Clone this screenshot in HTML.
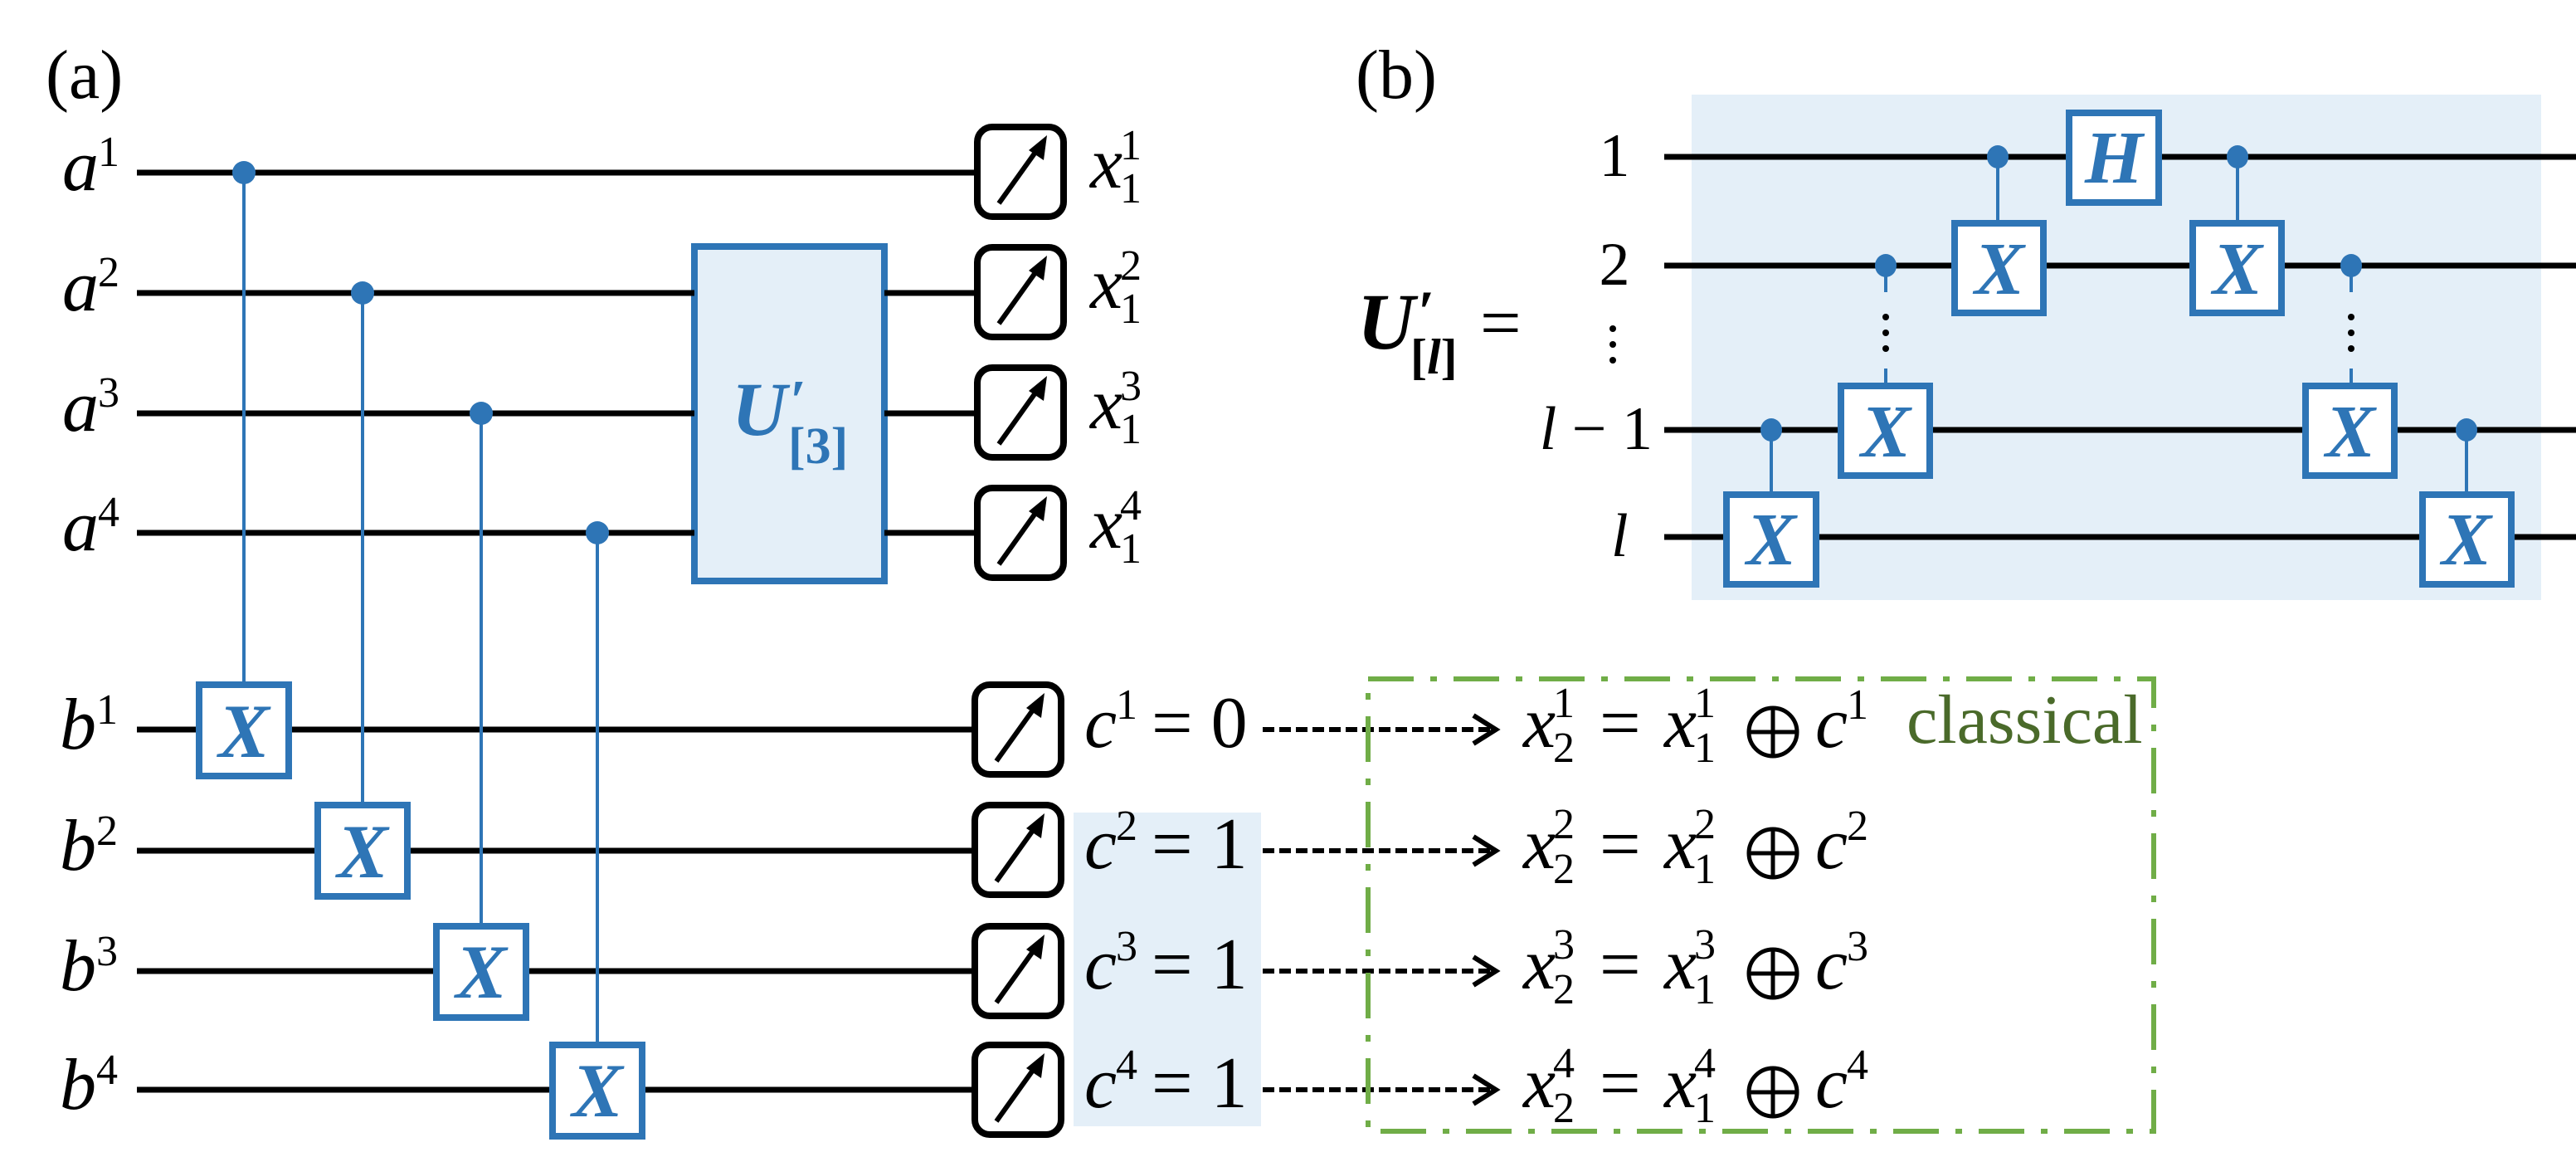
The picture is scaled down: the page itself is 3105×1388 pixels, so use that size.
<!DOCTYPE html>
<html><head><meta charset="utf-8"><style>html,body{margin:0;padding:0;background:#fff}svg{display:block}svg text{font-family:"Liberation Serif","DejaVu Serif",serif}</style></head><body>
<svg width="3105" height="1388" viewBox="0 0 3105 1388" xmlns="http://www.w3.org/2000/svg" style="font-family:'Liberation Serif',serif">
<defs>
<g id="meter"><rect x="0" y="0" width="104" height="108" rx="18" fill="#fff" stroke="#000" stroke-width="8"/><line x1="26" y1="92" x2="76" y2="22" stroke="#000" stroke-width="6"/><polygon points="84,10 62,28 80,40" fill="#000"/></g>
<g id="oplus" fill="none" stroke="#000" stroke-width="5"><circle cx="0" cy="0" r="29"/><line x1="-29" y1="0" x2="29" y2="0"/><line x1="0" y1="-29" x2="0" y2="29"/></g>
</defs>
<text x="55" y="118" font-size="84">(a)</text>
<text x="1634" y="118" font-size="84">(b)</text>

<rect x="837" y="297" width="229" height="403" fill="#e4eff8" stroke="#2e75b6" stroke-width="8"/>
<rect x="1294" y="979" width="226" height="378" fill="#e4eff8"/>

<g stroke="#000" stroke-width="7">
<line x1="165" y1="208" x2="1180" y2="208"/>
<line x1="165" y1="353" x2="837" y2="353"/><line x1="1066" y1="353" x2="1180" y2="353"/>
<line x1="165" y1="498" x2="837" y2="498"/><line x1="1066" y1="498" x2="1180" y2="498"/>
<line x1="165" y1="642" x2="837" y2="642"/><line x1="1066" y1="642" x2="1180" y2="642"/>
<line x1="165" y1="879" x2="1180" y2="879"/>
<line x1="165" y1="1025" x2="1180" y2="1025"/>
<line x1="165" y1="1170" x2="1180" y2="1170"/>
<line x1="165" y1="1313" x2="1180" y2="1313"/>
</g>
<g stroke="#2e75b6" stroke-width="4">
<line x1="294" y1="208" x2="294" y2="825"/>
<line x1="437" y1="353" x2="437" y2="970"/>
<line x1="580" y1="498" x2="580" y2="1116"/>
<line x1="720" y1="642" x2="720" y2="1259"/>
</g>
<g fill="#2e75b6">
<ellipse cx="294" cy="208" rx="14" ry="14"/><ellipse cx="437" cy="353" rx="14" ry="14"/>
<ellipse cx="580" cy="498" rx="14" ry="14"/><ellipse cx="720" cy="642" rx="14" ry="14"/>
</g>
<g fill="#fff" stroke="#2e75b6" stroke-width="8">
<rect x="240" y="825" width="108" height="110"/>
<rect x="383" y="970" width="108" height="110"/>
<rect x="526" y="1116" width="108" height="110"/>
<rect x="666" y="1259" width="108" height="110"/>
</g>
<g fill="#2e75b6" font-size="92" font-weight="bold" font-style="italic" text-anchor="middle">
<text x="294" y="912">X</text><text x="437" y="1057">X</text><text x="580" y="1202">X</text><text x="720" y="1345">X</text>
</g>
<text x="882" y="524" font-size="92" font-weight="bold" font-style="italic" fill="#2e75b6">U<tspan dx="4" dy="-18" font-size="70" font-style="normal">′</tspan></text>
<text x="950" y="558" font-size="62" font-weight="bold" fill="#2e75b6">[3]</text>

<use href="#meter" x="1178" y="153"/><use href="#meter" x="1178" y="298"/><use href="#meter" x="1178" y="443"/><use href="#meter" x="1178" y="588"/>
<use href="#meter" x="1175" y="825"/><use href="#meter" x="1175" y="970"/><use href="#meter" x="1175" y="1116"/><use href="#meter" x="1175" y="1259"/>

<g font-size="88" font-style="italic">
<text x="75" y="229">a</text><text x="75" y="374">a</text><text x="75" y="519">a</text><text x="75" y="663">a</text>
<text x="72" y="902">b</text><text x="72" y="1048">b</text><text x="72" y="1193">b</text><text x="72" y="1336">b</text>
</g>
<g font-size="52">
<text x="118" y="200">1</text><text x="118" y="345">2</text><text x="118" y="490">3</text><text x="118" y="634">4</text>
<text x="116" y="872">1</text><text x="116" y="1018">2</text><text x="116" y="1163">3</text><text x="116" y="1306">4</text>
</g>
<g font-size="88" font-style="italic">
<text x="1314" y="226">x</text><text x="1314" y="371">x</text><text x="1314" y="516">x</text><text x="1314" y="660">x</text>
</g>
<g font-size="52">
<text x="1350" y="192">1</text><text x="1350" y="337">2</text><text x="1350" y="482">3</text><text x="1350" y="626">4</text>
<text x="1350" y="244">1</text><text x="1350" y="389">1</text><text x="1350" y="534">1</text><text x="1350" y="678">1</text>
</g>
<g font-size="88">
<text x="1307" y="900" font-style="italic">c</text><text x="1388" y="900">= 0</text>
<text x="1307" y="1046" font-style="italic">c</text><text x="1388" y="1046">= 1</text>
<text x="1307" y="1191" font-style="italic">c</text><text x="1388" y="1191">= 1</text>
<text x="1307" y="1334" font-style="italic">c</text><text x="1388" y="1334">= 1</text>
</g>
<g font-size="52">
<text x="1345" y="866">1</text><text x="1345" y="1012">2</text><text x="1345" y="1157">3</text><text x="1345" y="1300">4</text>
</g>
<g stroke="#000" stroke-width="6" fill="none">
<g stroke-dasharray="14 6">
<line x1="1522" y1="879" x2="1800" y2="879"/><line x1="1522" y1="1025" x2="1800" y2="1025"/>
<line x1="1522" y1="1170" x2="1800" y2="1170"/><line x1="1522" y1="1313" x2="1800" y2="1313"/>
</g>
<polyline points="1776,862 1803,879 1776,896"/><polyline points="1776,1008 1803,1025 1776,1042"/>
<polyline points="1776,1153 1803,1170 1776,1187"/><polyline points="1776,1296 1803,1313 1776,1330"/>
</g>
<rect x="1649" y="818" width="947" height="545" fill="none" stroke="#70ad47" stroke-width="6" stroke-dasharray="55 20 8 20"/>
<text x="2298" y="895" font-size="84" fill="#4a6a2a">classical</text>
<g font-size="88">
<g font-style="italic"><text x="1836" y="900">x</text><text x="2006" y="900">x</text><text x="2188" y="900">c</text></g><text x="1928" y="900">=</text>
<g font-style="italic"><text x="1836" y="1046">x</text><text x="2006" y="1046">x</text><text x="2188" y="1046">c</text></g><text x="1928" y="1046">=</text>
<g font-style="italic"><text x="1836" y="1191">x</text><text x="2006" y="1191">x</text><text x="2188" y="1191">c</text></g><text x="1928" y="1191">=</text>
<g font-style="italic"><text x="1836" y="1334">x</text><text x="2006" y="1334">x</text><text x="2188" y="1334">c</text></g><text x="1928" y="1334">=</text>
</g>
<use href="#oplus" x="2137" y="882"/><use href="#oplus" x="2137" y="1028"/><use href="#oplus" x="2137" y="1173"/><use href="#oplus" x="2137" y="1316"/>
<g font-size="52">
<text x="1872" y="864">1</text><text x="1872" y="918">2</text><text x="2042" y="864">1</text><text x="2042" y="918">1</text><text x="2226" y="866">1</text>
<text x="1872" y="1010">2</text><text x="1872" y="1064">2</text><text x="2042" y="1010">2</text><text x="2042" y="1064">1</text><text x="2226" y="1012">2</text>
<text x="1872" y="1155">3</text><text x="1872" y="1209">2</text><text x="2042" y="1155">3</text><text x="2042" y="1209">1</text><text x="2226" y="1157">3</text>
<text x="1872" y="1298">4</text><text x="1872" y="1352">2</text><text x="2042" y="1298">4</text><text x="2042" y="1352">1</text><text x="2226" y="1300">4</text>
</g>

<rect x="2039" y="114" width="1024" height="609" fill="#e4eff8"/>
<g stroke="#000" stroke-width="7">
<line x1="2006" y1="189" x2="3105" y2="189"/>
<line x1="2006" y1="320" x2="3105" y2="320"/>
<line x1="2006" y1="518" x2="3105" y2="518"/>
<line x1="2006" y1="647" x2="3105" y2="647"/>
</g>
<g stroke="#2e75b6" stroke-width="4">
<line x1="2135" y1="518" x2="2135" y2="594"/>
<line x1="2408" y1="189" x2="2408" y2="268"/>
<line x1="2697" y1="189" x2="2697" y2="268"/>
<line x1="2973" y1="518" x2="2973" y2="594"/>
<line x1="2273" y1="320" x2="2273" y2="352"/><line x1="2273" y1="444" x2="2273" y2="464"/>
<line x1="2834" y1="320" x2="2834" y2="352"/><line x1="2834" y1="444" x2="2834" y2="464"/>
</g>
<g fill="#000">
<circle cx="2273" cy="382" r="4"/><circle cx="2273" cy="401" r="4"/><circle cx="2273" cy="420" r="4"/>
<circle cx="2834" cy="382" r="4"/><circle cx="2834" cy="401" r="4"/><circle cx="2834" cy="420" r="4"/>
<circle cx="1944" cy="396" r="4"/><circle cx="1944" cy="415" r="4"/><circle cx="1944" cy="434" r="4"/>
</g>
<g fill="#2e75b6">
<ellipse cx="2135" cy="518" rx="13" ry="14"/><ellipse cx="2273" cy="320" rx="13" ry="14"/>
<ellipse cx="2408" cy="189" rx="13" ry="14"/><ellipse cx="2697" cy="189" rx="13" ry="14"/>
<ellipse cx="2834" cy="320" rx="13" ry="14"/><ellipse cx="2973" cy="518" rx="13" ry="14"/>
</g>
<g fill="#fff" stroke="#2e75b6" stroke-width="8">
<rect x="2494" y="136" width="108" height="108"/>
<rect x="2081" y="596" width="108" height="108"/>
<rect x="2219" y="465" width="107" height="108"/>
<rect x="2356" y="269" width="107" height="108"/>
<rect x="2643" y="269" width="107" height="108"/>
<rect x="2779" y="465" width="107" height="108"/>
<rect x="2920" y="596" width="107" height="108"/>
</g>
<g fill="#2e75b6" font-size="90" font-weight="bold" font-style="italic" text-anchor="middle">
<text x="2548" y="220">H</text>
<text x="2135" y="680">X</text><text x="2273" y="550">X</text><text x="2410" y="354">X</text>
<text x="2697" y="354">X</text><text x="2833" y="550">X</text><text x="2973" y="680">X</text>
</g>
<g font-size="74">
<text x="1946" y="212" text-anchor="middle">1</text>
<text x="1946" y="343" text-anchor="middle">2</text>
<text x="1992" y="541" text-anchor="end"><tspan font-style="italic">l</tspan> − 1</text>
<text x="1942" y="670" font-style="italic">l</text>
</g>
<text x="1636" y="420" font-size="96" font-weight="bold" font-style="italic">U<tspan dx="4" dy="-20" font-size="72" font-style="normal">′</tspan></text>
<text x="1700" y="450" font-size="60" font-weight="bold">[<tspan font-style="italic">l</tspan>]</text>
<text x="1784" y="418" font-size="88">=</text>
</svg>
</body></html>
